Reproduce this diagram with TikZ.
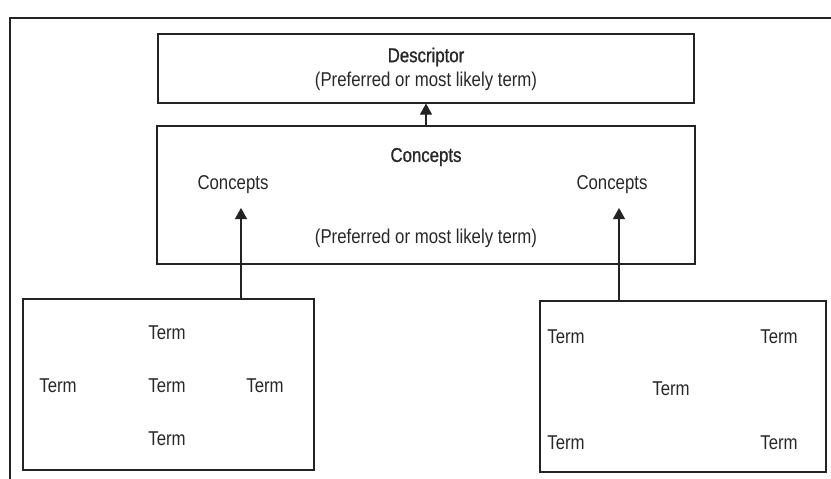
\documentclass[tikz,border=0pt]{standalone}
\usepackage{fontspec}
\setmainfont{Liberation Sans}[FakeStretch=0.84]
\newfontfamily\headfont{Liberation Sans}[FakeStretch=0.84,FakeBold=1]
\usepackage{tikz}
\usetikzlibrary{arrows.meta,positioning}
\definecolor{lineink}{RGB}{35,35,35}
\definecolor{textink}{RGB}{40,40,40}

\begin{document}
\begin{tikzpicture}[x=1pt,y=-1pt,>={Triangle[length=11pt,width=12pt]},
  box/.style={draw=lineink,line width=1.1pt,inner sep=0pt},
  lbl/.style={text=textink,font=\fontsize{20}{24}\selectfont,inner sep=1pt},
  head/.style={text=textink,font=\fontsize{20}{24}\headfont,inner sep=1pt}]
\useasboundingbox (0,0) rectangle (831,479);
% frame, only its top and left edge are inside the page
\draw[lineink,line width=1.1pt] (10,479) -- (10,18) -- (831,18);
% boxes
\node[box,minimum width=536pt,minimum height=69pt] (desc) at (426,68.5) {};
\node[box,minimum width=538pt,minimum height=138pt] (conc) at (426,195) {};
\node[box,minimum width=291pt,minimum height=171pt] (lbox) at (168.5,384.5) {};
\node[box,minimum width=286pt,minimum height=171pt] (rbox) at (683,386.5) {};
% texts of the upper boxes
\node[head] (desctitle) at (426,57) {Descriptor};
\node[lbl] (descsub) at (426,81) {(Preferred or most likely term)};
\node[head] (conctitle) at (426,157) {Concepts};
\node[lbl] (concleft) at (233,185) {Concepts};
\node[lbl] (concright) at (612,185) {Concepts};
\node[lbl] (concsub) at (426,238) {(Preferred or most likely term)};
% terms
\node[lbl] (lt1) at (167,333) {Term};
\node[lbl] (lt2) at (58,386) {Term};
\node[lbl] (lt3) at (167,386) {Term};
\node[lbl] (lt4) at (265,386) {Term};
\node[lbl] (lt5) at (167,439) {Term};
\node[lbl] (rt1) at (566,337) {Term};
\node[lbl] (rt2) at (779,337) {Term};
\node[lbl] (rt3) at (671,389) {Term};
\node[lbl] (rt4) at (566,443) {Term};
\node[lbl] (rt5) at (779,443) {Term};
% arrows
\coordinate (ltip) at (241,208);
\coordinate (rtip) at (619,208);
\draw[->,lineink,line width=1.1pt] (conc.north) -- (desc.south);
\draw[->,lineink,line width=1.1pt] (ltip |- lbox.north) -- (ltip);
\draw[->,lineink,line width=1.1pt] (rtip |- rbox.north) -- (rtip);
\end{tikzpicture}
\end{document}
